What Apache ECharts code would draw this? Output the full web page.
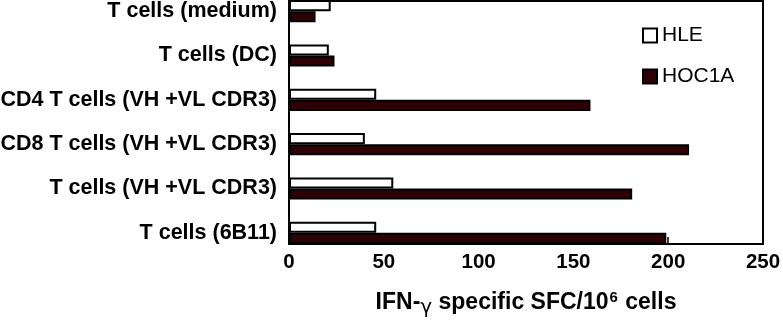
<!DOCTYPE html>
<html>
<head>
<meta charset="utf-8">
<script src="https://cdn.jsdelivr.net/npm/echarts@6/dist/echarts.min.js"></script>
<style>
  html, body { margin: 0; padding: 0; background: #fff; overflow: hidden; }
  /* plot is cut off at the top in the original, so the canvas starts above the page */
  #chart { position: absolute; left: 0; top: -11px; width: 783px; height: 334px; }
</style>
</head>
<body>
<div id="chart"></div>
<script>
// categories, top to bottom
var categories = ['T cells (medium)', 'T cells (DC)', 'CD4 T cells (VH +VL CDR3)',
                  'CD8 T cells (VH +VL CDR3)', 'T cells (VH +VL CDR3)', 'T cells (6B11)'];
var hleData = [22, 21, 46, 40, 55, 46];
var hoc1aData = [14, 24, 159, 211, 181, 199];
var xTicks = [0, 50, 100, 150, 200, 250];

var font = '"Liberation Sans", Arial, Helvetica, sans-serif';

var chart = echarts.init(document.getElementById('chart'));
chart.setOption({
    animation: false,
    textStyle: {fontFamily: font, color: '#000'},
    grid: {left: 289, right: 20, top: 0, bottom: 68, containLabel: false, outerBoundsMode: 'none'},
    legend: {
        orient: 'vertical',
        left: 642, top: 36,
        padding: 0,
        itemWidth: 14, itemHeight: 14, itemGap: 20,
        icon: 'rect',
        textStyle: {fontSize: 21, color: '#000', fontFamily: font},
        data: ['HLE', 'HOC1A']
    },
    xAxis: [{
        type: 'value',
        min: xTicks[0], max: xTicks[xTicks.length - 1], interval: 50,
        position: 'bottom', offset: -11,
        splitLine: {show: false},
        axisLine: {show: true, lineStyle: {color: '#000', width: 2}},
        axisTick: {show: true, inside: true, length: 7, lineStyle: {color: '#000', width: 1.5}},
        axisLabel: {fontSize: 20.5, fontWeight: 'bold', color: '#000', margin: 8},
        name: '{a|IFN-}{g|γ}{a| specific SFC/10}{s|6}{a| cells}',
        nameLocation: 'middle', nameGap: 45,
        nameTextStyle: {
            rich: {
                a: {fontSize: 23, fontWeight: 'bold', color: '#000', fontFamily: font, lineHeight: 27},
                g: {fontSize: 20, color: '#000', fontFamily: 'DejaVu Sans', lineHeight: 27, padding: [10, 0, 0, 0]},
                s: {fontSize: 15, fontWeight: 'bold', color: '#000', fontFamily: font, lineHeight: 27, padding: [0, 1, 10, 1]}
            }
        }
    }, {
        type: 'value',
        min: xTicks[0], max: xTicks[xTicks.length - 1],
        position: 'top', offset: -12,
        splitLine: {show: false},
        axisLine: {show: true, lineStyle: {color: '#000', width: 2}},
        axisTick: {show: false},
        axisLabel: {show: false}
    }],
    yAxis: {
        type: 'category',
        inverse: true,
        data: categories,
        axisLine: {show: false},
        axisTick: {show: false},
        axisLabel: {fontSize: 21.5, fontWeight: 'bold', color: '#000', margin: 12}
    },
    graphic: [
        {type: 'line', z: 100, shape: {x1: 289, y1: 11, x2: 289, y2: 256}, style: {stroke: '#000', lineWidth: 2}},
        {type: 'line', z: 100, shape: {x1: 763, y1: 11, x2: 763, y2: 256}, style: {stroke: '#000', lineWidth: 2}}
    ],
    series: [{
        name: 'HLE',
        type: 'bar',
        data: hleData,
        barCategoryGap: '50%',
        barGap: '0%',
        itemStyle: {color: '#fff', borderColor: '#000', borderWidth: 2}
    }, {
        name: 'HOC1A',
        type: 'bar',
        data: hoc1aData,
        barCategoryGap: '50%',
        barGap: '0%',
        itemStyle: {color: '#2e0204', borderColor: '#000', borderWidth: 2}
    }]
});
</script>
</body>
</html>
